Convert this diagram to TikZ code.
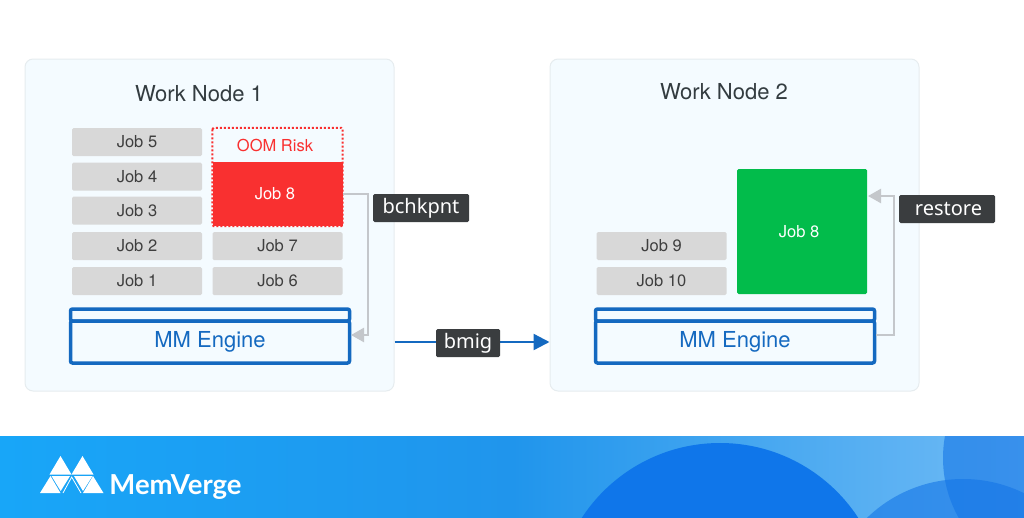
\documentclass[tikz,border=0pt]{standalone}
\usepackage{fontspec}
\setmainfont{TeX Gyre Heros}
\newfontfamily\tagfont{Noto Sans}
\newfontfamily\brandfont{Lato}
\usetikzlibrary{arrows.meta}
\definecolor{panelfill}{HTML}{F4FBFF}
\definecolor{panelline}{HTML}{E6ECEF}
\definecolor{jobgray}{HTML}{D8D8D8}
\definecolor{jobtext}{HTML}{3E3E3E}
\definecolor{titletext}{HTML}{333C40}
\definecolor{riskred}{HTML}{F93030}
\definecolor{jobgreen}{HTML}{02BC4B}
\definecolor{engineblue}{HTML}{1469C0}
\definecolor{linkgray}{HTML}{C4C7CB}
\definecolor{tagdark}{HTML}{3A3D3F}
\definecolor{bandleft}{HTML}{18A6F8}
\definecolor{bandmid}{HTML}{2095EC}
\definecolor{bandright}{HTML}{70BBF5}
\definecolor{bigdisc}{HTML}{0F76EA}
\definecolor{smalldisc}{HTML}{1475E6}
\tikzstyle{panel}=[draw=panelline, fill=panelfill, rounded corners=8pt, line width=1pt, minimum width=369pt, minimum height=332pt, inner sep=0pt]
\tikzstyle{title}=[text=titletext, font=\fontsize{22}{24}\selectfont, inner sep=0pt]
\tikzstyle{jobbox}=[fill=jobgray, text=jobtext, rounded corners=1.5pt, minimum width=130pt, minimum height=28pt, inner sep=0pt, font=\fontsize{16.5}{18}\selectfont]
\tikzstyle{bigjob}=[fill=jobgreen, text=white, rounded corners=1.5pt, minimum width=130pt, minimum height=125pt, inner sep=0pt, font=\fontsize{16.5}{18}\selectfont]
\tikzstyle{engine}=[draw=engineblue, line width=3.5pt, rounded corners=2pt, text=engineblue, minimum width=279pt, minimum height=42pt, inner sep=0pt, font=\fontsize{22}{24}\selectfont]
\tikzstyle{enginetop}=[draw=engineblue, line width=3.5pt, rounded corners=2pt, minimum width=279pt, minimum height=12pt, inner sep=0pt]
\tikzstyle{tag}=[fill=tagdark, text=white, rounded corners=1.5pt, minimum height=28pt, inner sep=0pt, font=\tagfont\fontsize{20}{22}\selectfont]
\tikzstyle{graylink}=[draw=linkgray, line width=2.4pt, -{Triangle[length=13pt,width=14pt]}]
\newcommand{\jobbox}{\node[jobbox]}
\newcommand{\tagbox}{\node[tag]}
\begin{document}
\begin{tikzpicture}[x=1pt,y=-1pt]
            \useasboundingbox (0,0) rectangle (1024,517);
            % footer band
            \begin{scope}
                \clip (0,436) rectangle (1024,517);
                \shade[left color=bandleft, right color=bandright, middle color=bandmid] (0,436) rectangle (1024,517);
                \fill[bigdisc] (720,608) circle (165);
                \fill[smalldisc, opacity=0.6] (1065,458) circle (122);
                \fill[smalldisc, opacity=0.6] (963,617) circle (138);
            \end{scope}
            % logo
            \fill[white] (60.5,456) -- (71.5,474.5) -- (49.5,474.5) -- cycle;
            \fill[white] (82.5,456) -- (93.5,474.5) -- (71.5,474.5) -- cycle;
            \fill[white] (50.5,476) -- (60.5,493) -- (40,493) -- cycle;
            \fill[white] (93,476) -- (103.5,493) -- (83,493) -- cycle;
            \fill[white] (51.5,476) -- (70,476) -- (60.7,491) -- cycle;
            \fill[white] (74,476) -- (92.5,476) -- (83,491) -- cycle;
            \draw[white, line width=0.8pt] (63,493) -- (71.7,477) -- (81,493);
            \node[text=white, font=\brandfont\bfseries\fontsize{27.5}{30}\selectfont, inner sep=0pt] (brand) at (175.5,487) {MemVerge};
            % work nodes
            \node[panel] (node1) at (209.5,225) {};
            \node[panel] (node2) at (734.5,225) {};
            \node[title] (title1) at (199,94) {Work Node 1};
            \node[title] (title2) at (724,92) {Work Node 2};
            % jobs
            \jobbox (job5) at (137,142){Job 5};
            \jobbox (job4) at (137,176.5){Job 4};
            \jobbox (job3) at (137,210.5){Job 3};
            \jobbox (job2) at (137,246){Job 2};
            \jobbox (job1) at (137,281){Job 1};
            \jobbox (job7) at (277.5,246){Job 7};
            \jobbox (job6) at (277.5,281){Job 6};
            \jobbox (job9) at (661.5,246){Job 9};
            \jobbox (job10) at (661.5,281){Job 10};
            \node[fill=riskred, text=white, minimum width=130pt, minimum height=64pt, inner sep=0pt, font=\fontsize{16.5}{18}\selectfont] (job8a) at (277.5,194){\hspace*{-5pt}Job 8};
            \node[text=riskred, minimum width=130pt, minimum height=34pt, inner sep=0pt, font=\fontsize{16.5}{18}\selectfont] (oom) at (277.5,145){\hspace*{-5pt}OOM Risk};
            \draw[riskred, line width=2pt, dotted, rounded corners=1.5pt] (oom.north west) rectangle (job8a.south east);
            \node[bigjob] (job8b) at (802,231.5){\hspace*{-6pt}\raisebox{-3pt}{Job 8}};
            % engines
            \node[engine] (engine1) at (210,342){MM Engine};
            \node[enginetop] (top1) at (210,315){};
            \node[engine] (engine2) at (735,342){MM Engine};
            \node[enginetop] (top2) at (735,315){};
            % links
            \coordinate (ckpt) at (368,335);
            \coordinate (rest) at (894,196);
            \coordinate (in1) at (351,335);
            \coordinate (out2) at (876,335);
            \coordinate (in2) at (868,196);
            \draw[graylink] (job8a.east) -- (job8a.east -| ckpt) -- (ckpt) -- (in1);
            \draw[graylink] (out2) -- (out2 -| rest) -- (rest) -- (in2);
            \draw[engineblue, line width=2.4pt, -{Triangle[length=16pt,width=16pt]}] (node1.east |- engine1) -- (node2.west |- engine1);
            % labels
            \tagbox[minimum width=96pt] (bchkpnt) at (421,208){bchkpnt};
            \tagbox[minimum width=96pt] (restore) at (947,209){\hspace*{3pt}restore};
            \tagbox[minimum width=64pt] (bmig) at (468,343){bmig};
        \end{tikzpicture}
\end{document}
